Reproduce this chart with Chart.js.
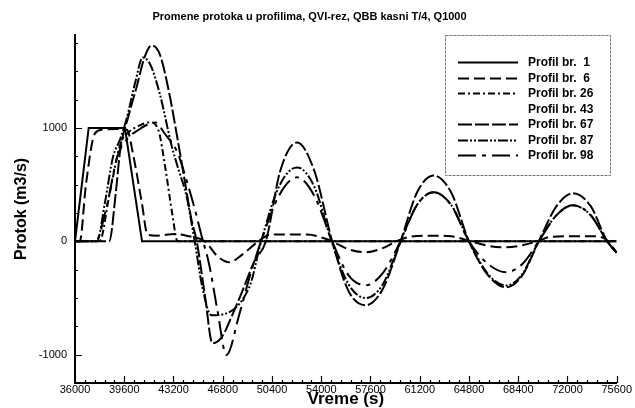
<!DOCTYPE html>
<html>
<head>
<meta charset="utf-8">
<title>Promene protoka u profilima</title>
<script src="https://cdn.jsdelivr.net/npm/chart.js@4.4.1/dist/chart.umd.min.js"></script>
<style>
  html, body { margin: 0; padding: 0; background: #fff; }
  #wrap { width: 635px; height: 408px; }
</style>
</head>
<body>
<div id="wrap"><canvas id="flowChart" width="635" height="408"></canvas></div>
<script>
// Axis ticks
const timeTicks = [36000, 39600, 43200, 46800, 50400, 54000, 57600, 61200, 64800, 68400, 72000, 75600];
const flowTicks = [-1000, 0, 1000];
const timeMinorStep = 720;
const flowMinorStep = 250;

// Profil br. 1
const p1Time = [36000, 37000, 39650, 40900, 75600];
const p1Flow = [0, 1000, 1000, 0, 0];

// Profil br. 6
const p6Time = [36000, 36350, 36800, 37450, 38000, 39000, 39800, 40220, 40880, 41300, 42000, 43300, 44500, 45500,
  46400, 47280, 48200, 49400, 50300, 51600, 53000, 54000, 54800, 56000, 57260, 58500, 59500, 60500, 62000, 63500,
  64900, 66200, 67500, 68700, 69800, 70800, 72300, 73800, 74800, 75600];
const p6Flow = [0, 0, 500, 950, 985, 990, 985, 784, 344, 60, 50, 65, 40, 0,
  -130, -185, -120, 0, 60, 60, 60, 35, 0, -70, -97, -60, 0, 40, 50, 45,
  0, -40, -53, -35, 0, 40, 45, 45, 20, -100];

// Profil br. 26
const p26Time = [36000, 37800, 38500, 39300, 39900, 40700, 41500, 42100, 42600, 43100, 43500, 75600];
const p26Flow = [0, 0, 400, 850, 960, 1020, 1050, 980, 650, 250, 0, 0];

// Profil br. 43
const p43Time = [];
const p43Flow = [];

// Profil br. 67
const p67Time = [36000, 38500, 39000, 39300, 39900, 40500, 41100, 41600, 42200, 42900, 43500, 44000, 44500, 44900,
  45500, 46050, 46700, 47500, 48300, 49100, 49950, 51000, 52230, 53500, 54800, 56000, 57260, 58500, 59800, 61000,
  62200, 63500, 64800, 66200, 67520, 68700, 69900, 71200, 72400, 73700, 74900, 75600];
const p67Flow = [0, 0, 450, 800, 1100, 1360, 1630, 1727, 1650, 1300, 900, 550, 200, 0,
  -480, -900, -850, -650, -420, -180, 0, 620, 872, 620, 0, -440, -564, -420, 0, 430,
  581, 430, 0, -300, -405, -300, 0, 310, 423, 310, 0, -100];

// Profil br. 87
const p87Time = [36000, 37600, 38200, 38770, 39300, 39790, 40400, 40950, 41500, 42200, 43060, 43600, 44150, 44750,
  45300, 45970, 48740, 49610, 50900, 52230, 53500, 54750, 56000, 57260, 58500, 59800, 61000, 62200, 63500, 64800,
  66200, 67520, 68700, 69900, 71200, 72400, 73700, 74900, 75600];
const p87Flow = [0, 0, 350, 740, 900, 1090, 1400, 1621, 1560, 1300, 846, 620, 400, 0,
  -400, -652, -405, 0, 480, 652, 480, 0, -380, -500, -380, 0, 320, 432, 320, 0,
  -290, -390, -290, 0, 230, 317, 230, 0, -100];

// Profil br. 98
const p98Time = [36000, 37500, 38300, 39100, 39800, 40600, 41500, 41900, 42500, 43500, 44150, 44700, 45250, 45800,
  46400, 47070, 48000, 48800, 49600, 50900, 52230, 53500, 54800, 56000, 57260, 58500, 59800, 61000, 62200, 63500,
  64800, 66200, 67520, 68700, 69900, 71200, 72400, 73700, 74900, 75600];
const p98Flow = [0, 0, 300, 750, 900, 980, 1040, 1048, 960, 780, 540, 310, 50, -200,
  -600, -1004, -650, -300, 0, 400, 564, 400, 0, -300, -388, -280, 0, 320, 432, 320,
  0, -200, -273, -200, 0, 230, 317, 230, 0, -100];

const FONT = "'Liberation Sans', Arial, Helvetica, sans-serif";

function points(times, flows) {
  return times.map((t, i) => ({ x: t, y: flows[i] }));
}

function profile(label, times, flows, dash, extra) {
  return Object.assign({
    label: label,
    data: points(times, flows),
    borderColor: '#000',
    borderWidth: 2,
    borderDash: dash,
    pointRadius: 0,
    fill: false,
    cubicInterpolationMode: 'monotone'
  }, extra || {});
}

// inward tick marks on the left and bottom axes
const inwardTicks = {
  id: 'inwardTicks',
  afterDatasetsDraw(chart) {
    const { ctx, chartArea: area, scales } = chart;
    const x = scales.x, y = scales.y;
    ctx.save();
    ctx.strokeStyle = '#000';
    ctx.lineWidth = 1.2;
    ctx.beginPath();
    for (let t = x.min; t <= x.max; t += timeMinorStep) {
      const px = Math.round(x.getPixelForValue(t)) + 0.5;
      const major = timeTicks.includes(t);
      ctx.moveTo(px, area.bottom);
      ctx.lineTo(px, area.bottom - (major ? 7 : 3));
    }
    for (let v = Math.ceil(y.min / flowMinorStep) * flowMinorStep; v <= y.max; v += flowMinorStep) {
      const py = Math.round(y.getPixelForValue(v)) + 0.5;
      const major = flowTicks.includes(v);
      ctx.moveTo(area.left, py);
      ctx.lineTo(area.left + (major ? 7 : 3), py);
    }
    ctx.stroke();
    ctx.restore();
  }
};

// framed legend in the upper right corner
const boxLegend = {
  id: 'boxLegend',
  afterDraw(chart) {
    const ctx = chart.ctx;
    ctx.save();
    ctx.fillStyle = '#fff';
    ctx.fillRect(445, 35, 165, 140);
    ctx.strokeStyle = '#777';
    ctx.lineWidth = 1;
    ctx.setLineDash([3, 1]);
    ctx.strokeRect(445.5, 35.5, 165, 140);
    ctx.font = 'bold 12px ' + FONT;
    ctx.textBaseline = 'middle';
    ctx.fillStyle = '#000';
    chart.data.datasets.forEach((ds, i) => {
      const ly = Math.round(62 + i * 15.5) + 0.5;
      ctx.strokeStyle = ds.borderColor;
      ctx.lineWidth = ds.borderWidth;
      ctx.setLineDash(ds.borderDash || []);
      ctx.beginPath();
      ctx.moveTo(458, ly);
      ctx.lineTo(518, ly);
      ctx.stroke();
      ctx.fillText(ds.label, 528, ly);
    });
    ctx.restore();
  }
};

document.addEventListener('DOMContentLoaded', () => {
  const canvas = document.getElementById('flowChart');

  new Chart(canvas, {
    type: 'line',
    data: {
      datasets: [
        profile('Profil br.  1', p1Time, p1Flow, [], { cubicInterpolationMode: 'default', tension: 0 }),
        profile('Profil br.  6', p6Time, p6Flow, [11, 5]),
        profile('Profil br. 26', p26Time, p26Flow, [7, 3, 2, 3]),
        profile('Profil br. 43', p43Time, p43Flow, [], { borderColor: 'rgba(0,0,0,0)' }),
        profile('Profil br. 67', p67Time, p67Flow, [14, 3]),
        profile('Profil br. 87', p87Time, p87Flow, [10, 2, 2, 2, 2, 2]),
        profile('Profil br. 98', p98Time, p98Flow, [18, 6, 4, 6])
      ]
    },
    options: {
      responsive: false,
      devicePixelRatio: 1,
      animation: false,
      layout: { padding: { top: 0, right: 16, bottom: 0, left: 0 } },
      plugins: {
        legend: { display: false },
        tooltip: { enabled: false },
        title: {
          display: true,
          text: 'Promene protoka u profilima, QVI-rez, QBB kasni T/4, Q1000',
          color: '#000',
          font: { family: FONT, size: 11, weight: 'bold' },
          padding: { top: 10, bottom: 11.8 }
        }
      },
      scales: {
        x: {
          type: 'linear',
          min: 36000,
          max: 75600,
          afterBuildTicks: (axis) => { axis.ticks = timeTicks.map(v => ({ value: v })); },
          afterFit: (scale) => { scale.height = 25; },
          grid: { display: true, drawOnChartArea: false, drawTicks: false },
          border: { display: true, color: '#000', width: 2 },
          ticks: {
            autoSkip: false,
            maxRotation: 0,
            padding: 3,
            color: '#000',
            font: { family: FONT, size: 11, lineHeight: 0.8 },
            callback: (v) => String(v)
          },
          title: {
            display: true,
            text: 'Vreme (s)',
            color: '#000',
            font: { family: FONT, size: 17, weight: 'bold', lineHeight: 1 },
            padding: 0
          }
        },
        y: {
          min: -1250,
          max: 1820,
          afterBuildTicks: (axis) => { axis.ticks = flowTicks.map(v => ({ value: v })); },
          afterFit: (scale) => { scale.width = 75; },
          grid: { display: true, drawOnChartArea: false, drawTicks: false },
          border: { display: true, color: '#000', width: 2 },
          ticks: {
            padding: 8,
            color: '#000',
            font: { family: FONT, size: 11 },
            callback: (v) => String(v)
          },
          title: {
            display: true,
            text: 'Protok (m3/s)',
            color: '#000',
            font: { family: FONT, size: 16, weight: 'bold' },
            padding: { top: 12, bottom: 0 }
          }
        }
      }
    },
    plugins: [inwardTicks, boxLegend]
  });
});
</script>
</body>
</html>
